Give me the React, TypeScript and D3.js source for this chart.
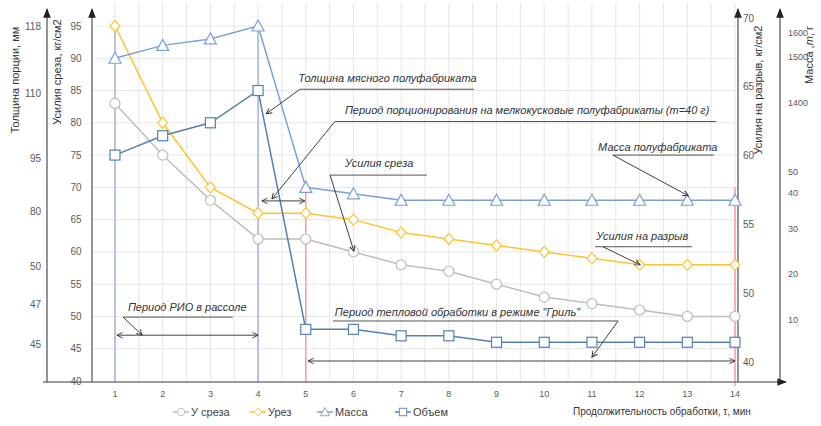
import * as d3 from "d3";

// time axis, min
const steps = [1, 2, 3, 4, 5, 6, 7, 8, 9, 10, 11, 12, 13, 14];

// series (all read against the "Усилия среза" scale)
const shear = [83, 75, 68, 62, 62, 60, 58, 57, 55, 53, 52, 51, 50, 50];
const cut = [95, 80, 70, 66, 66, 65, 63, 62, 61, 60, 59, 58, 58, 58];
const mass = [90, 92, 93, 95, 70, 69, 68, 68, 68, 68, 68, 68, 68, 68];
const volume = [75, 78, 80, 85, 48, 48, 47, 47, 46, 46, 46, 46, 46, 46];

// tick labels
const shearTicks = [95, 90, 85, 80, 75, 70, 65, 60, 55, 50, 45, 40];
const thicknessTicks = ["118", "110", "95", "80", "50", "47", "45"];
const thicknessAt = [95, 84.6, 74.5, 66.2, 57.8, 51.8, 45.6];
const breakTicks = ["70", "65", "60", "55", "50", "40"];
const massTicks = ["1600", "1500", "1400", "50", "40", "30", "20", "10"];
const massAt = [93.9, 90.2, 83.1, 72.4, 69.1, 63.5, 56.6, 49.5];

const series = [
  { name: "У среза", values: shear, color: "#bdbdbd", shape: "circle" },
  { name: "Урез", values: cut, color: "#ffc230", shape: "diamond" },
  { name: "Масса", values: mass, color: "#7b9fdc", shape: "triangle" },
  { name: "Объем", values: volume, color: "#5380b5", shape: "square" },
];

// annotations, in data units (step, shear value)
const notes = [
  { text: "Толщина мясного полуфабриката", at: [4.84, 86.3], under: [4.88, 8.53, 85.2], lead: [4.88, 85.2, 4.17, 81.4] },
  { text: "Период  порционирования на мелкокусковые полуфабрикаты (m=40 г)", at: [5.82, 81.4], under: [5.61, 13.6, 80.2], lead: [5.61, 80.2, 4.29, 68.2], span: [4.08, 4.98, 67.9] },
  { text: "Усилия среза", at: [5.82, 73.2], under: [5.51, 7.54, 71.9], lead: [5.51, 71.9, 6.01, 60.1] },
  { text: "Масса полуфабриката", at: [11.13, 75.7], under: [11.44, 13.56, 75.0], lead: [11.44, 75.0, 13.02, 68.7] },
  { text: "Усилия на разрыв", at: [11.09, 61.8], under: [11.07, 13.1, 60.8], lead: [11.23, 60.8, 12.01, 58.0] },
  { text: "Период РИО в рассоле", at: [1.27, 50.8], under: [1.17, 3.47, 49.9], lead: [1.17, 49.9, 1.57, 47.1], span: [1.04, 4.0, 47.1] },
  { text: "Период  тепловой обработки в режиме \"Гриль\"", at: [5.61, 50.1], under: [5.57, 11.55, 49.3], lead: [11.55, 49.3, 11.0, 43.7], span: [5.05, 14.0, 43.1] },
];

const width = 821;
const height = 426;
const font = "'Liberation Sans Narrow', 'Liberation Sans', Arial, sans-serif";
const grey = "#595959";

function Marker({ shape, x, y, color }: { shape: string; x: number; y: number; color: string }) {
  const p = { fill: "white", stroke: color, strokeWidth: 1.2 };
  if (shape === "circle") return <circle cx={x} cy={y} r={5} {...p} />;
  if (shape === "square") return <rect x={x - 5} y={y - 5} width={10} height={10} {...p} />;
  if (shape === "diamond")
    return <path d={`M${x},${y - 5.5}L${x + 5},${y}L${x},${y + 5.5}L${x - 5},${y}Z`} {...p} />;
  return <path d={`M${x},${y - 6}L${x + 6},${y + 5}L${x - 6},${y + 5}Z`} {...p} />;
}

export default function App() {
  const x = d3.scaleLinear([1, 14], [115, 735]);
  const y = d3.scaleLinear([40, 95], [381, 26]);
  const yBreak = d3.scalePoint(breakTicks, [18, 362]);
  const line = d3.line<number>((_d, i) => x(steps[i]), (d) => y(d));

  const axisL1 = 47, axisL2 = 92, axisR1 = 738, axisR2 = 780;
  const top = 9, bottom = 382;
  const gridX = d3.range(1, 14.01, 0.5);
  const gridY = d3.range(45, 96, 5);

  const legendX = [173, 250, 317, 395];

  return (
    <svg width={width} height={height} style={{ position: "absolute", left: 0, top: 0, background: "white" }} fontFamily={font}>
      <defs>
        <marker id="arr" viewBox="0 0 10 10" refX="9" refY="5" markerWidth="7" markerHeight="7" orient="auto-start-reverse">
          <path d="M1,1L9,5L1,9" fill="none" stroke="#333" strokeWidth="1.3" />
        </marker>
        <marker id="axarr" viewBox="0 0 10 10" refX="9" refY="5" markerWidth="6" markerHeight="6" orient="auto">
          <path d="M0,1L10,5L0,9Z" fill="#222" />
        </marker>
      </defs>

      {/* grid */}
      <g stroke="#e6e6e6" strokeWidth="1">
        {gridX.map((g) => (
          <line key={"gx" + g} x1={x(g)} x2={x(g)} y1={3} y2={bottom} />
        ))}
        {gridY.map((g) => (
          <line key={"gy" + g} x1={axisL2} x2={axisR1} y1={y(g)} y2={y(g)} />
        ))}
      </g>

      {/* period lines */}
      <g strokeWidth="1.5">
        <line x1={x(1)} x2={x(1)} y1={y(95)} y2={bottom} stroke="#9fb5dc" />
        <line x1={x(4)} x2={x(4)} y1={y(95)} y2={bottom} stroke="#9fb5dc" />
        <line x1={x(5)} x2={x(5)} y1={y(70)} y2={bottom} stroke="#ff9a9a" />
        <line x1={x(14)} x2={x(14)} y1={y(70)} y2={bottom + 4} stroke="#ff9a9a" />
      </g>

      {/* axes */}
      <g stroke="#7a7a7a" strokeWidth="1.6">
        <line x1={axisL1} x2={axisL1} y1={bottom + 1} y2={top} markerEnd="url(#axarr)" />
        <line x1={axisL2} x2={axisL2} y1={bottom} y2={top} markerEnd="url(#axarr)" />
        <line x1={axisR1} x2={axisR1} y1={bottom} y2={top} markerEnd="url(#axarr)" />
        <line x1={axisR2} x2={axisR2} y1={bottom} y2={top} markerEnd="url(#axarr)" />
        <line x1={43} x2={786} y1={bottom} y2={bottom} markerEnd="url(#axarr)" />
      </g>

      {/* series */}
      {series.map((s) => (
        <g key={s.name}>
          <path d={line(s.values) || ""} fill="none" stroke={s.color} strokeWidth="1.5" />
          {s.values.map((v, i) => (
            <Marker key={i} shape={s.shape} x={x(steps[i])} y={y(v)} color={s.color} />
          ))}
        </g>
      ))}

      {/* annotations */}
      <g stroke="#404040" strokeWidth="1" fill="none">
        {notes.map((n, i) => (
          <g key={i}>
            <line x1={x(n.under[0])} x2={x(n.under[1])} y1={y(n.under[2])} y2={y(n.under[2])} stroke="#555" />
            <line x1={x(n.lead[0])} y1={y(n.lead[1])} x2={x(n.lead[2])} y2={y(n.lead[3])} markerEnd="url(#arr)" />
            {n.span && (
              <line x1={x(n.span[0])} x2={x(n.span[1])} y1={y(n.span[2])} y2={y(n.span[2])} markerStart="url(#arr)" markerEnd="url(#arr)" />
            )}
          </g>
        ))}
      </g>
      <g fontSize="11" fontStyle="italic" fill="#333" fontFamily="'Liberation Sans', Arial, sans-serif" style={{ whiteSpace: "pre" }}>
        {notes.map((n, i) => (
          <text key={i} x={x(n.at[0])} y={y(n.at[1])}>{n.text}</text>
        ))}
      </g>

      {/* tick labels */}
      <g fontSize="10" fill={grey}>
        {shearTicks.map((t) => (
          <text key={"s" + t} x={76} y={y(t)} textAnchor="middle" dominantBaseline="central">{t}</text>
        ))}
        {thicknessTicks.map((t, i) => (
          <text key={"t" + t} x={41} y={y(thicknessAt[i])} textAnchor="end" dominantBaseline="central">{t}</text>
        ))}
        {breakTicks.map((t) => (
          <text key={"b" + t} x={743} y={yBreak(t)} dominantBaseline="central">{t}</text>
        ))}
        {massTicks.map((t, i) => (
          <text key={"m" + t} x={788} y={y(massAt[i])} dominantBaseline="central" fontSize="9">{t}</text>
        ))}
      </g>
      <g fontSize="9" fill={grey}>
        {steps.map((s) => (
          <text key={s} x={x(s)} y={397} textAnchor="middle">{s}</text>
        ))}
      </g>

      {/* axis titles */}
      <g fontSize="11" fill="#333">
        <text transform="translate(19,80) rotate(-90)" textAnchor="middle">Толщина порции, мм</text>
        <text transform="translate(61,72) rotate(-90)" textAnchor="middle">Усилия среза, кг/см2</text>
        <text transform="translate(762,90) rotate(-90)" textAnchor="middle">Усилия на разрыв, кг/см2</text>
        <text transform="translate(813,55) rotate(-90)" textAnchor="middle">Масса ,<tspan fontStyle="italic">m</tspan>, г</text>
        <text x={573} y={415} fontSize="10">Продолжительность обработки, τ, мин</text>
      </g>

      {/* legend */}
      <g fontSize="11" fill="#404040">
        {series.map((s, i) => (
          <g key={s.name}>
            <line x1={legendX[i]} x2={legendX[i] + 16} y1={412} y2={412} stroke={s.color} strokeWidth="1.5" />
            <g transform={`translate(${legendX[i] + 8},412) scale(0.75) translate(${-(legendX[i] + 8)},-412)`}>
              <Marker shape={s.shape} x={legendX[i] + 8} y={412} color={s.color} />
            </g>
            <text x={legendX[i] + 18} y={412} dominantBaseline="central">{s.name}</text>
          </g>
        ))}
      </g>
    </svg>
  );
}
